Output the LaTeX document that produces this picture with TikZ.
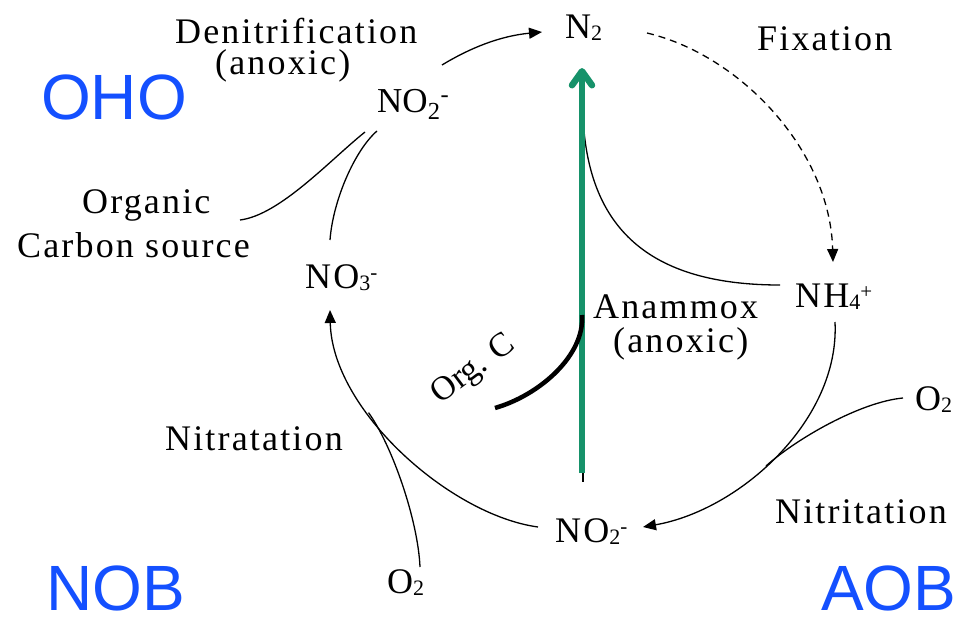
\documentclass[tikz,border=0pt]{standalone}
\usepackage{fontspec}
\setmainfont{Liberation Serif}
\newfontfamily\lblfont[LetterSpace=6]{Liberation Serif}
\newfontfamily\bigfont{Liberation Sans}
\usetikzlibrary{arrows.meta,calc}
\definecolor{anxgreen}{RGB}{22,146,106}
\definecolor{bugblue}{RGB}{20,80,255}
\newcommand\lowsub[1]{\raisebox{-2.5pt}{\fontsize{22}{22}\selectfont #1}}
\newcommand\upsup[1]{\raisebox{9pt}{\fontsize{21}{21}\selectfont #1}}
\tikzset{
  lbl/.style={font={\lblfont\fontsize{36}{36}\selectfont}, inner sep=0pt, anchor=base west, text=black},
  grp/.style={font={\bigfont\fontsize{64}{64}\selectfont}, text=bugblue, inner sep=0pt, anchor=base west},
  conn/.style={line width=1.3pt, black},
  tipped/.style={-{Triangle[length=13pt,width=11pt]}},
  fixdash/.style={dash pattern=on 7pt off 5pt},
}
\begin{document}
\begin{tikzpicture}[x=1pt,y=-1pt]
\fill[white] (0,0) rectangle (956,619);
\useasboundingbox (0,0) rectangle (956,619);

% labels
\node[lbl] (den) at (175,43) {Denitrification};
\node[lbl] (denx) at (215,74) {(anoxic)};
\node[lbl] (n2) at (565,38) {N\lowsub{2}};
\node[lbl] (fix) at (757,50) {Fixation};
\node[font={\fontsize{35}{35}\selectfont}, inner sep=0pt, anchor=base west] (no2t) at (377,112) {NO\textsubscript{2}\textsuperscript{-}};
\node[lbl] (org) at (82,213) {Organic};
\node[lbl] (csrc) at (17,257) {Carbon source};
\node[lbl] (no3) at (305,288) {NO\lowsub{3}\upsup{-}};
\node[lbl] (nh4) at (795,307) {NH\lowsub{4}\upsup{+}};
\node[lbl] (anm) at (593,318) {Anammox};
\node[lbl] (anmx) at (613,352) {(anoxic)};
\node[lbl] (ntt) at (165,450) {Nitratation};
\node[lbl] (ntr) at (775,523) {Nitritation};
\node[lbl] (no2b) at (555,542) {NO\lowsub{2}\upsup{-}};
\node[lbl] (o2b) at (387,593) {O\lowsub{2}};
\node[lbl] (o2r) at (915,410) {O\lowsub{2}};
\node[font={\fontsize{34}{34}\selectfont}, rotate=37, inner sep=0pt] (orgc) at (474,370) {Org. C};

\node[grp] (oho) at (41,119) {OHO};
\node[grp] (nob) at (46,610) {NOB};
\node[grp] (aob) at (821,610) {AOB};

% free-end coordinates
\coordinate (orgj) at (582,315);
\coordinate (orgend) at (495,408);
\coordinate (mergeL) at (368.5,412.6);
\coordinate (mergeR) at (766,466);

% denitrification
\draw[conn,tipped] ([shift={(65,-47)}]no2t.base west) .. controls (470,48) and (500,36) .. ([shift={(-23,-6)}]n2.base west);
% fixation
\draw[conn,fixdash,tipped] ([shift={(82,-5)}]n2.base west) .. controls (740,55) and (830,150) .. ([shift={(38,-45)}]nh4.base west);
% anammox black line
\draw[conn] ([shift={(18,62)}]n2.base west) -- ([shift={(28,-60)}]no2b.base west);
\draw[conn] ([shift={(18,79)}]n2.base west) .. controls (588,220) and (640,285) .. ([shift={(-15,-22)}]nh4.base west);
% green anammox arrow
\draw[anxgreen, line width=6.5pt, -{Straight Barb[length=14pt,width=20pt,round]}] ([shift={(27,-69)}]no2b.base west) -- ([shift={(17,30)}]n2.base west);
% Org. C
\draw[line width=4.5pt] (orgj) .. controls (585,355) and (540,395) .. (orgend);
% nitratation arc
\draw[conn,tipped] ([shift={(-17,-15)}]no2b.base west) .. controls (450,515) and (332,410) .. ([shift={(25,22)}]no3.base west);
\draw[conn] ([shift={(33,-26)}]o2b.base west) .. controls (418,520) and (392,445) .. (mergeL);
% denitrification inputs
\draw[conn] ([shift={(0,19)}]no2t.base west) .. controls (355,150) and (333,200) .. ([shift={(25,-48)}]no3.base west);
\draw[conn] ([shift={(-12,20)}]no2t.base west) .. controls (330,160) and (280,215) .. ([shift={(158,7)}]org.base west);
% nitritation arc
\draw[conn,tipped] ([shift={(40,15)}]nh4.base west) .. controls (840,420) and (740,510) .. ([shift={(88,-15)}]no2b.base west);
\draw[conn] ([shift={(-12,-12)}]o2r.base west) .. controls (860,402) and (796,439) .. (mergeR);
\end{tikzpicture}
\end{document}
